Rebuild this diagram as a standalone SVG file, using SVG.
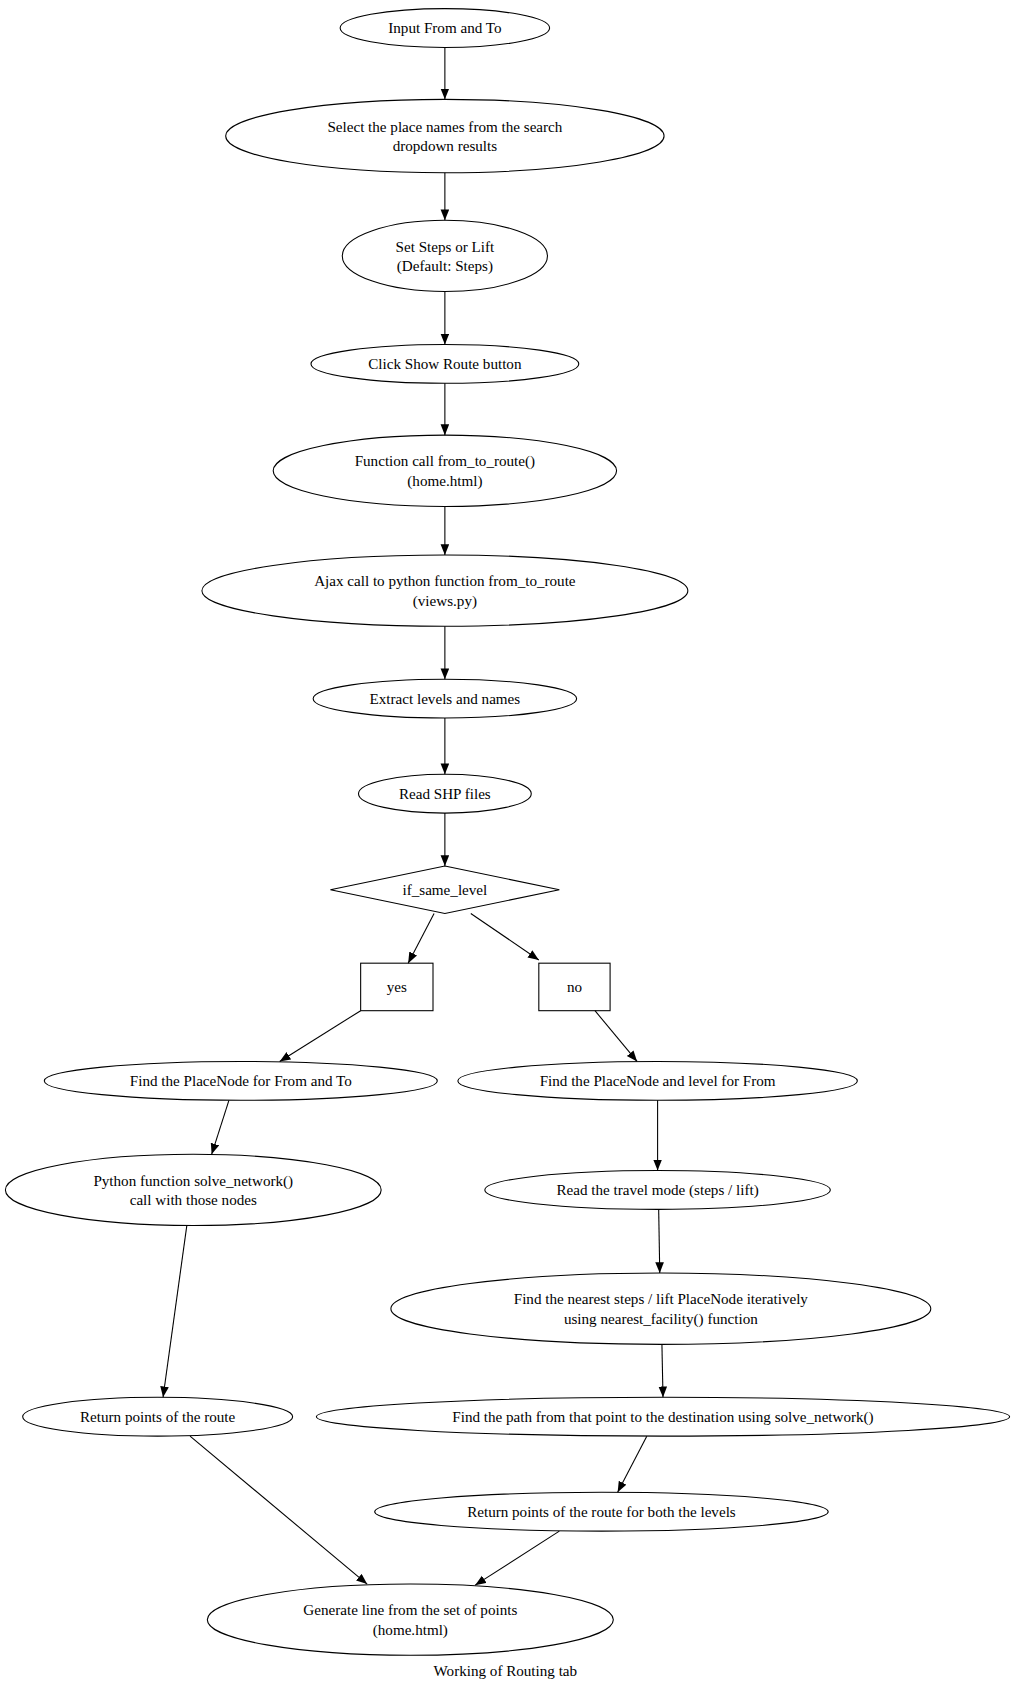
<svg xmlns="http://www.w3.org/2000/svg" width="1015" height="1695" viewBox="0 0 1015 1695">
<style>
.n ellipse,.n rect,.n polygon{fill:none;stroke:#000;stroke-width:1}
text{font-family:"Liberation Serif","Times New Roman",serif;font-size:14px;text-anchor:middle;fill:#000}
#edges line{stroke:#000;stroke-width:1;marker-end:url(#a)}
</style>
<defs><marker id="a" markerUnits="userSpaceOnUse" markerWidth="12" markerHeight="10" refX="10" refY="4" orient="auto"><path d="M0,0L10,4L0,8z" fill="#000"/></marker></defs>
<rect width="1015" height="1695" fill="#fff"/>
<g transform="scale(1.0798)">
<g id="edges">
<line x1="412" y1="44" x2="412" y2="92"/>
<line x1="412" y1="160" x2="412" y2="204"/>
<line x1="412" y1="270" x2="412" y2="319"/>
<line x1="412" y1="355" x2="412" y2="403"/>
<line x1="412" y1="469" x2="412" y2="514"/>
<line x1="412" y1="580" x2="412" y2="629"/>
<line x1="412" y1="665" x2="412" y2="717"/>
<line x1="412" y1="753" x2="412" y2="802"/>
<line x1="402" y1="846" x2="378" y2="892"/>
<line x1="436" y1="846" x2="499" y2="889"/>
<line x1="334" y1="936" x2="259" y2="983"/>
<line x1="551" y1="936" x2="590" y2="983"/>
<line x1="212" y1="1019" x2="196" y2="1069"/>
<line x1="173" y1="1135" x2="151" y2="1294"/>
<line x1="609" y1="1019" x2="609" y2="1084"/>
<line x1="610" y1="1120" x2="611" y2="1179"/>
<line x1="613" y1="1245" x2="614" y2="1294"/>
<line x1="599" y1="1330" x2="572" y2="1382"/>
<line x1="176" y1="1330" x2="340" y2="1467"/>
<line x1="518" y1="1418" x2="440" y2="1468"/>
</g>
<g id="n1" class="n"><ellipse cx="412" cy="26" rx="97" ry="18"/><text x="412" y="31">Input From and To</text></g>
<g id="n2" class="n"><ellipse cx="412" cy="126" rx="203" ry="34"/><text x="412" y="122">Select the place names from the search</text><text x="412" y="140">dropdown results</text></g>
<g id="n3" class="n"><ellipse cx="412" cy="237" rx="95" ry="33"/><text x="412" y="233">Set Steps or Lift</text><text x="412" y="251"> (Default: Steps)</text></g>
<g id="n4" class="n"><ellipse cx="412" cy="337" rx="124" ry="18"/><text x="412" y="342">Click Show Route button</text></g>
<g id="n5" class="n"><ellipse cx="412" cy="436" rx="159" ry="33"/><text x="412" y="432">Function call from_to_route()</text><text x="412" y="450">(home.html)</text></g>
<g id="n6" class="n"><ellipse cx="412" cy="547" rx="225" ry="33"/><text x="412" y="543">Ajax call to python function from_to_route</text><text x="412" y="561">(views.py)</text></g>
<g id="n7" class="n"><ellipse cx="412" cy="647" rx="122" ry="18"/><text x="412" y="652">Extract levels and names</text></g>
<g id="n8" class="n"><ellipse cx="412" cy="735" rx="80" ry="18"/><text x="412" y="740">Read SHP files</text></g>
<g id="n9" class="n"><polygon points="412,802 518,824 412,846 306,824"/><text x="412" y="829">if_same_level</text></g>
<g id="n10" class="n"><rect x="334" y="892" width="67" height="44"/><text x="367.5" y="919">yes</text></g>
<g id="n11" class="n"><rect x="499" y="892" width="66" height="44"/><text x="532" y="919">no</text></g>
<g id="n12" class="n"><ellipse cx="223" cy="1001" rx="182" ry="18"/><text x="223" y="1006">Find the PlaceNode for From and To</text></g>
<g id="n13" class="n"><ellipse cx="179" cy="1102" rx="174" ry="33"/><text x="179" y="1098">Python function solve_network()</text><text x="179" y="1116">call with those nodes</text></g>
<g id="n14" class="n"><ellipse cx="146" cy="1312" rx="125" ry="18"/><text x="146" y="1317">Return points of the route</text></g>
<g id="n15" class="n"><ellipse cx="609" cy="1001" rx="185" ry="18"/><text x="609" y="1006">Find the PlaceNode and level for From</text></g>
<g id="n16" class="n"><ellipse cx="609" cy="1102" rx="160" ry="18"/><text x="609" y="1107">Read the travel mode (steps / lift)</text></g>
<g id="n17" class="n"><ellipse cx="612" cy="1212" rx="250" ry="33"/><text x="612" y="1208">Find the nearest steps / lift PlaceNode iteratively</text><text x="612" y="1226">using nearest_facility() function</text></g>
<g id="n18" class="n"><ellipse cx="614" cy="1312" rx="321" ry="18"/><text x="614" y="1317">Find the path from that point to the destination using solve_network()</text></g>
<g id="n19" class="n"><ellipse cx="557" cy="1400" rx="210" ry="18"/><text x="557" y="1405">Return points of the route for both the levels</text></g>
<g id="n20" class="n"><ellipse cx="380" cy="1500" rx="188" ry="33"/><text x="380" y="1496">Generate line from the set of points</text><text x="380" y="1514">(home.html)</text></g>
<text x="468" y="1552">Working of Routing tab</text>
</g>
</svg>
